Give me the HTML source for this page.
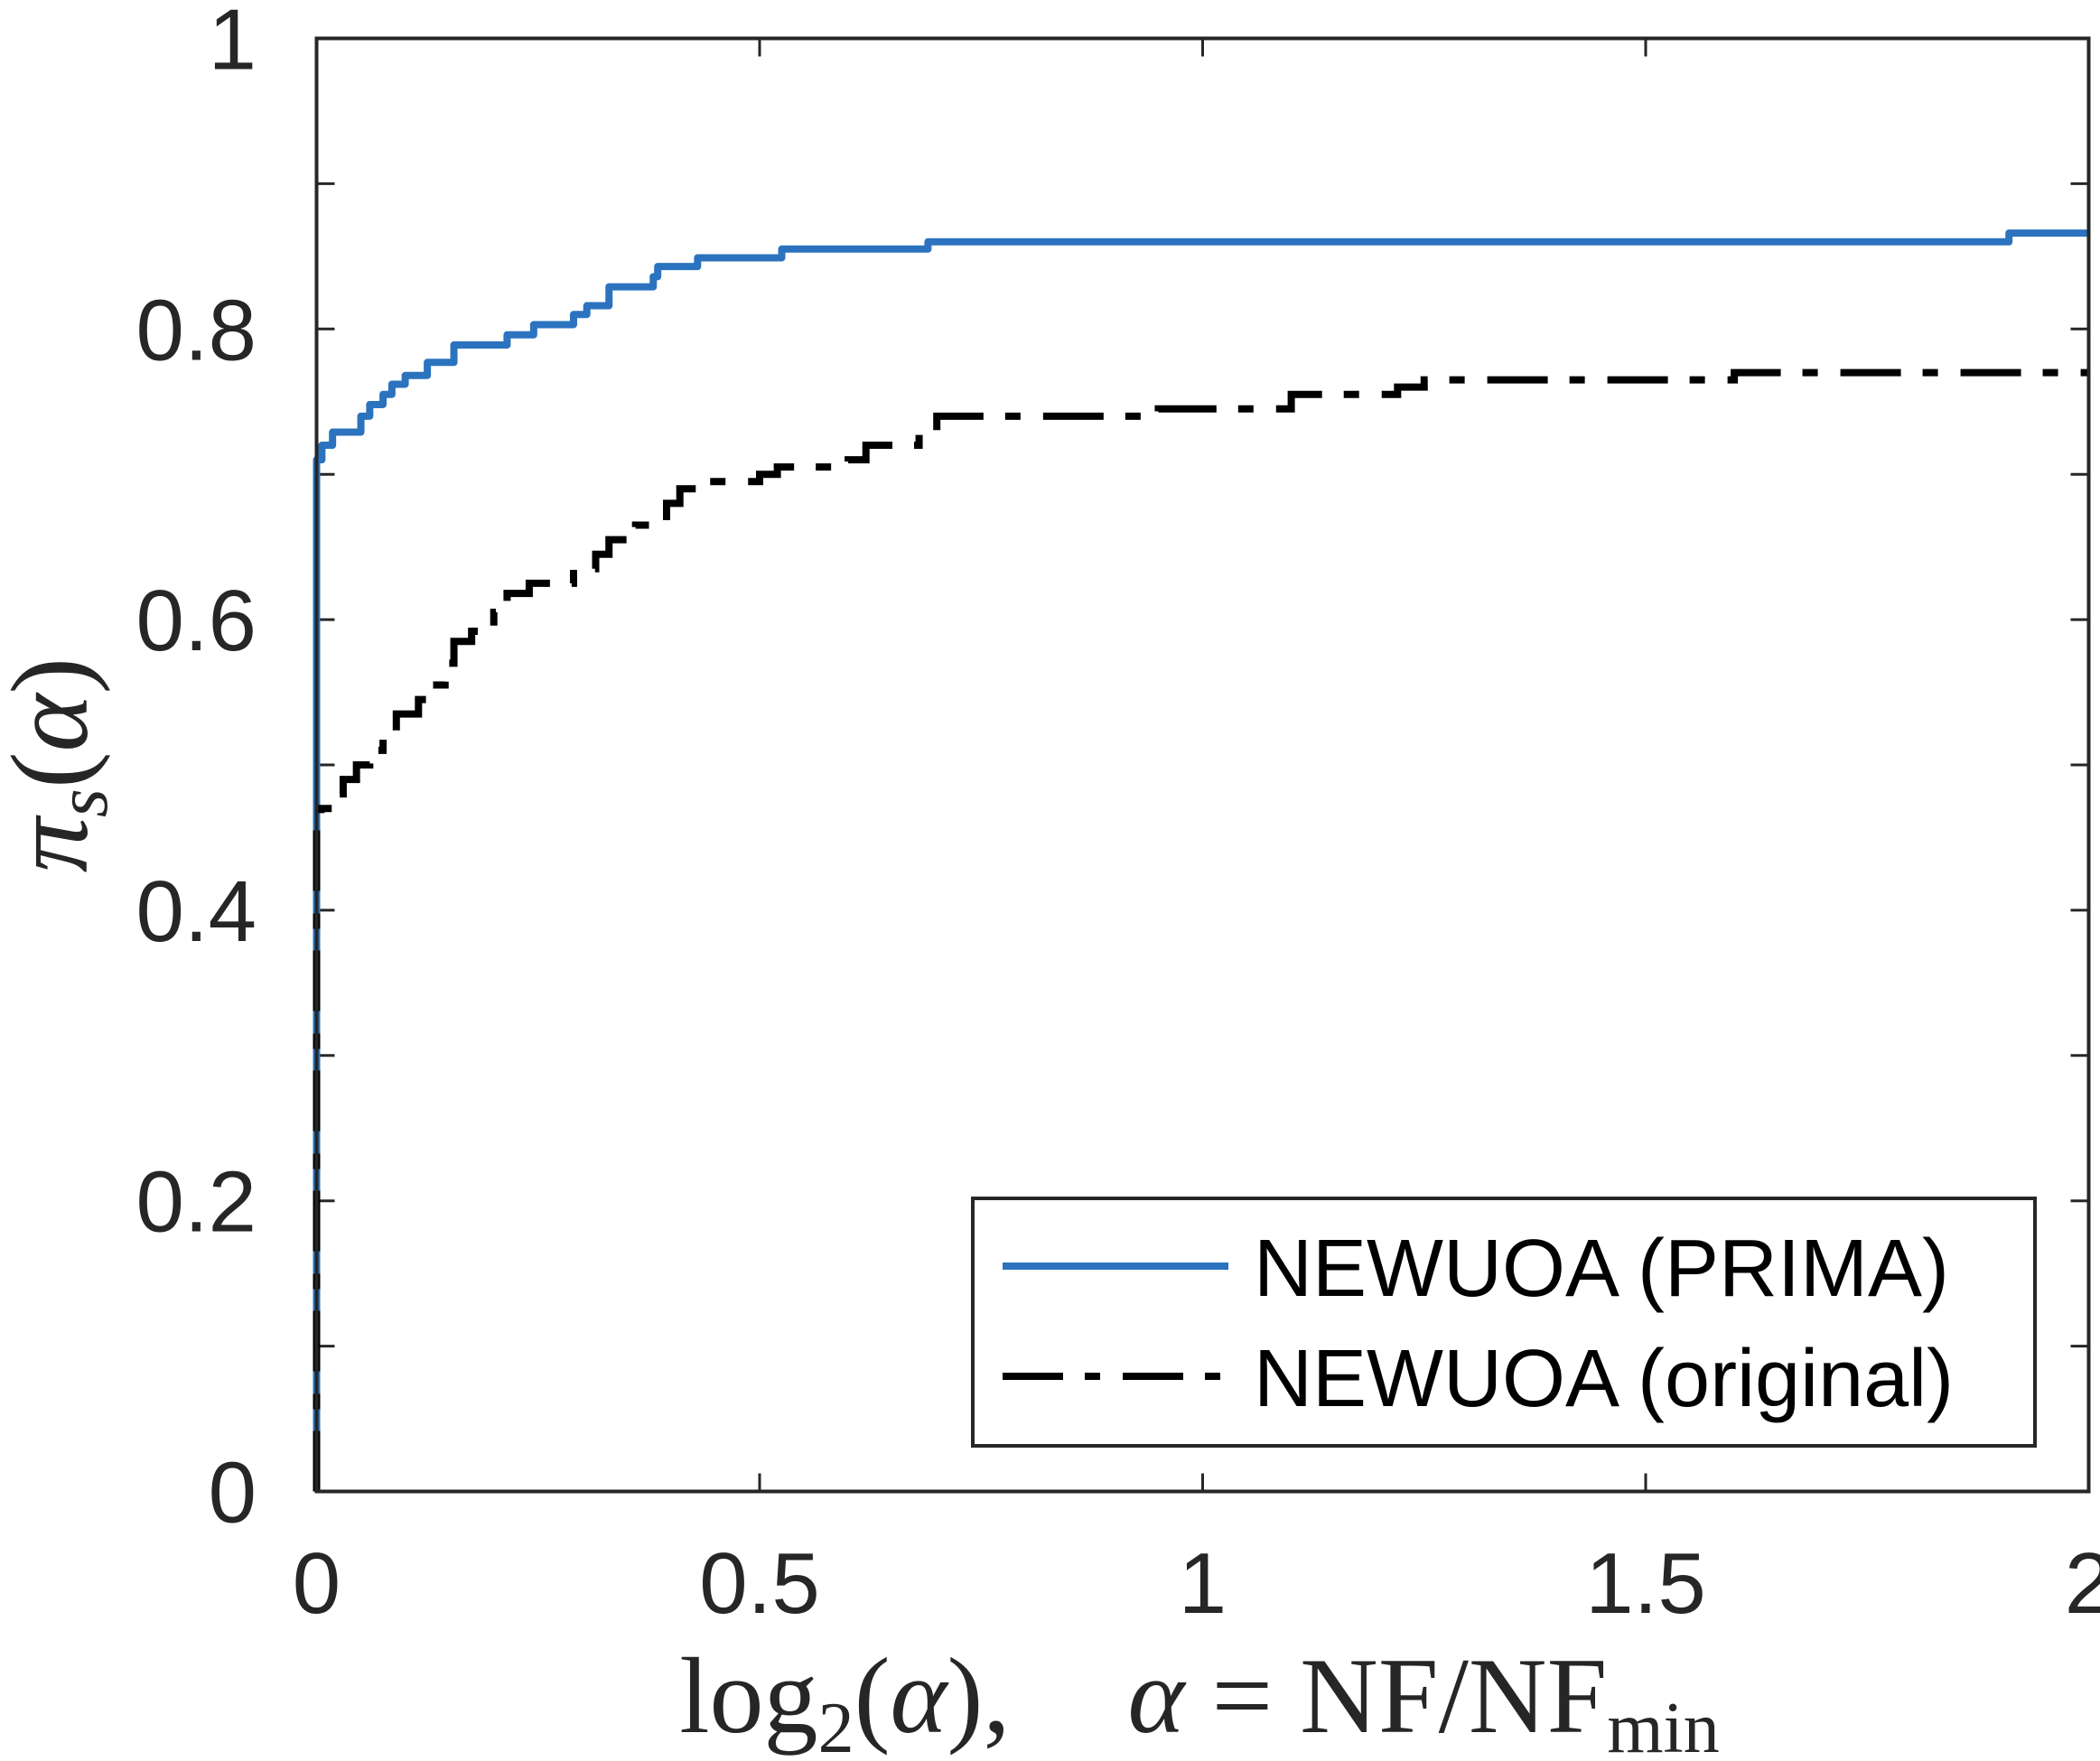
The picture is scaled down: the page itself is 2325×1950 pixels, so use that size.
<!DOCTYPE html>
<html><head><meta charset="utf-8"><style>
html,body{margin:0;padding:0;background:#fff;}
svg{display:block;}
</style></head><body>
<svg id="chart" width="2325" height="1950" viewBox="0 0 2325 1950" xmlns="http://www.w3.org/2000/svg">
<rect x="0" y="0" width="2325" height="1950" fill="#fff"/>
<g id="ticks"></g>
<g id="series"></g>
<rect x="350.5" y="42.5" width="1962" height="1609" fill="none" stroke="#262626" stroke-width="4"/>
<g id="labels" font-family="'Liberation Sans', sans-serif" font-size="96" fill="#262626"></g>
<text transform="translate(96,847) rotate(-90)" text-anchor="middle" font-family="'Liberation Serif', serif" font-size="122" fill="#262626"><tspan font-style="italic">π</tspan><tspan font-style="italic" font-size="82" dy="22">s</tspan><tspan dy="-22">(</tspan><tspan font-style="italic">α</tspan><tspan>)</tspan></text>
<text x="1328" y="1918" text-anchor="middle" font-family="'Liberation Serif', serif" font-size="120" fill="#262626">log<tspan font-size="80" dy="22">2</tspan><tspan dy="-22">(</tspan><tspan font-style="italic">α</tspan>),<tspan dx="130" font-style="italic">α</tspan> = NF/NF<tspan font-size="80" dy="22">min</tspan></text>
<g>
<rect x="1077" y="1327" width="1176" height="274" fill="#fff" stroke="#262626" stroke-width="4"/>
<line x1="1110" y1="1402" x2="1360" y2="1402" stroke="#2b73bf" stroke-width="8"/>
<text x="1388" y="1435" font-family="'Liberation Sans', sans-serif" font-size="90" fill="#000">NEWUOA (PRIMA)</text>
<line x1="1110" y1="1524" x2="1352" y2="1524" stroke="#000" stroke-width="8" stroke-dasharray="67 24 17 25"/>
<text x="1388" y="1557" font-family="'Liberation Sans', sans-serif" font-size="90" fill="#000">NEWUOA (original)</text>
</g>
</svg>
<script>
const xTicks = [0, 0.5, 1, 1.5, 2];
const xTickLabels = ["0", "0.5", "1", "1.5", "2"];
const yTicks = [0, 0.1, 0.2, 0.3, 0.4, 0.5, 0.6, 0.7, 0.8, 0.9, 1];
const yTickLabels = ["0", "", "0.2", "", "0.4", "", "0.6", "", "0.8", "", "1"];
const primaX = [0, 0.006, 0.018, 0.05, 0.06, 0.075, 0.085, 0.10, 0.125, 0.155, 0.215, 0.245, 0.29, 0.305, 0.33, 0.38, 0.385, 0.43, 0.525, 0.69, 1.91];
const primaY = [0.71, 0.72, 0.729, 0.74, 0.748, 0.755, 0.762, 0.768, 0.777, 0.789, 0.796, 0.803, 0.81, 0.816, 0.829, 0.836, 0.843, 0.849, 0.855, 0.86, 0.866];
const origX = [0, 0.005, 0.02, 0.03, 0.045, 0.06, 0.075, 0.09, 0.115, 0.125, 0.145, 0.155, 0.175, 0.2, 0.215, 0.24, 0.29, 0.315, 0.33, 0.36, 0.395, 0.41, 0.44, 0.5, 0.52, 0.6, 0.62, 0.68, 0.7, 0.95, 1.1, 1.22, 1.25, 1.6];
const origY = [0.465, 0.47, 0.48, 0.49, 0.5, 0.51, 0.52, 0.535, 0.545, 0.555, 0.57, 0.585, 0.592, 0.605, 0.618, 0.625, 0.635, 0.645, 0.655, 0.665, 0.68, 0.69, 0.695, 0.7, 0.705, 0.71, 0.72, 0.73, 0.74, 0.745, 0.755, 0.76, 0.765, 0.77];

const X0 = 350.5, X1 = 2312.5, Y0 = 1651.5, Y1 = 42.5;
const sx = v => X0 + (v - 0) / 2 * (X1 - X0);
const sy = v => Y0 - v * (Y0 - Y1);
const NS = "http://www.w3.org/2000/svg";
const ticksG = document.getElementById('ticks');
const labelsG = document.getElementById('labels');
const seriesG = document.getElementById('series');

function mk(tag, attrs, parent) {
  const e = document.createElementNS(NS, tag);
  for (const k in attrs) e.setAttribute(k, attrs[k]);
  parent.appendChild(e);
  return e;
}
const TL = 20;
xTicks.forEach((t, i) => {
  const x = sx(t);
  const a = mk('line', {x1: x, y1: Y0, x2: x, y2: Y0 - TL, stroke: '#262626', 'stroke-width': 3}, ticksG);
  
  
  const b = mk('line', {x1: x, y1: Y1, x2: x, y2: Y1 + TL, stroke: '#262626', 'stroke-width': 3}, ticksG);
  
  
  const tx = mk('text', {x: x, y: 1786, 'text-anchor': 'middle'}, labelsG);
  
  
  tx.textContent = xTickLabels[i];
});
yTicks.forEach((t, i) => {
  const y = sy(t);
  const a = mk('line', {x1: X0, y1: y, x2: X0 + TL, y2: y, stroke: '#262626', 'stroke-width': 3}, ticksG);
  
  
  const b = mk('line', {x1: X1, y1: y, x2: X1 - TL, y2: y, stroke: '#262626', 'stroke-width': 3}, ticksG);
  
  
  if (yTickLabels[i]) {
    const tx = mk('text', {x: 284, y: y + 34, 'text-anchor': 'end'}, labelsG);
    
    
    tx.textContent = yTickLabels[i];
  }
});
function stepPath(xs, ys) {
  let d = 'M' + sx(xs[0]) + ',' + sy(0) + ' L' + sx(xs[0]) + ',' + sy(ys[0]);
  for (let i = 1; i < xs.length; i++) {
    d += ' L' + sx(xs[i]) + ',' + sy(ys[i - 1]) + ' L' + sx(xs[i]) + ',' + sy(ys[i]);
  }
  d += ' L' + sx(2) + ',' + sy(ys[ys.length - 1]);
  return d;
}
const p1 = mk('path', {d: stepPath(primaX, primaY), fill: 'none', stroke: '#2b73bf', 'stroke-width': 8, 'stroke-linejoin': 'round'}, seriesG);


const p2 = mk('path', {d: stepPath(origX, origY), fill: 'none', stroke: '#000', 'stroke-width': 8, 'stroke-dasharray': '67 24 17 25'}, seriesG);


</script>
</body></html>
